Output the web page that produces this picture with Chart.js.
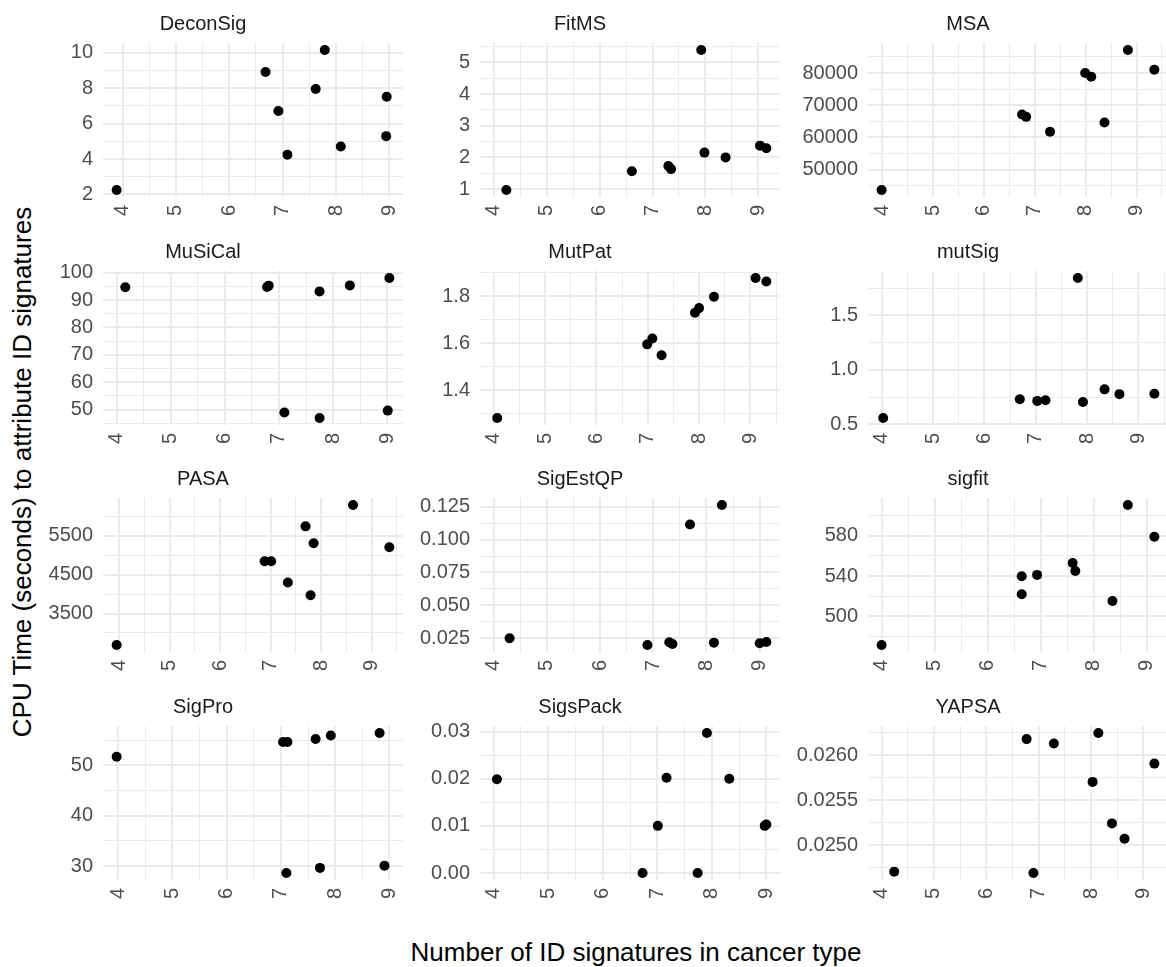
<!DOCTYPE html>
<html>
<head>
<meta charset="utf-8">
<script src="https://cdn.jsdelivr.net/npm/chart.js@4.4.1/dist/chart.umd.min.js"></script>
<style>
  html, body { margin: 0; padding: 0; background: #ffffff; overflow: hidden; }
  #board { position: relative; width: 1166px; height: 967px; overflow: hidden; background: #ffffff; }
  #board canvas { position: absolute; }
  .axis-title {
    position: absolute;
    font-family: "Liberation Sans", Arial, sans-serif;
    font-size: 26px;
    color: #000000;
    white-space: nowrap;
  }
</style>
</head>
<body>
<div id="board">
  <div class="axis-title" id="ytitle">CPU Time (seconds) to attribute ID signatures</div>
  <div class="axis-title" id="xtitle">Number of ID signatures in cancer type</div>
</div>
<script>
// Tools, in facet order (left to right, top to bottom)
const tools = ["DeconSig", "FitMS", "MSA", "MuSiCal", "MutPat", "mutSig",
               "PASA", "SigEstQP", "sigfit", "SigPro", "SigsPack", "YAPSA"];

// Number of ID signatures per cancer type (jittered) and CPU seconds, per tool
const deconSigX = [3.89, 6.68, 6.92, 7.09, 7.62, 7.79, 8.09, 8.94, 8.95];
const deconSigY = [2.25, 8.91, 6.71, 4.24, 7.95, 10.15, 4.70, 5.29, 7.51];

const fitMSX = [4.24, 6.61, 7.30, 7.35, 7.92, 7.98, 8.38, 9.03, 9.15];
const fitMSY = [0.97, 1.56, 1.73, 1.63, 5.39, 2.15, 2.00, 2.37, 2.29];

const msaX = [3.99, 6.75, 6.83, 7.30, 7.99, 8.11, 8.37, 8.83, 9.35];
const msaY = [43700, 67150, 66400, 61800, 80000, 78850, 64650, 87150, 81050];

const muSiCalX = [4.16, 6.78, 6.81, 7.10, 7.75, 7.75, 8.31, 9.01, 9.04];
const muSiCalY = [94.7, 94.8, 95.3, 48.9, 93.2, 46.9, 95.4, 49.6, 98.1];

const mutPatX = [4.07, 6.99, 7.09, 7.27, 7.92, 8.00, 8.29, 9.10, 9.31];
const mutPatY = [1.282, 1.595, 1.620, 1.549, 1.729, 1.749, 1.797, 1.877, 1.862];

const mutSigX = [4.03, 6.69, 7.03, 7.19, 7.82, 7.92, 8.34, 8.63, 9.31];
const mutSigY = [0.559, 0.731, 0.716, 0.722, 1.844, 0.706, 0.822, 0.778, 0.781];

const pasaX = [3.95, 6.88, 7.01, 7.34, 7.69, 7.79, 7.85, 8.63, 9.35];
const pasaY = [2690, 4845, 4845, 4300, 5745, 3970, 5310, 6295, 5205];

const sigEstQPX = [4.30, 6.89, 7.30, 7.36, 7.69, 8.14, 8.29, 9.00, 9.125];
const sigEstQPY = [0.0250, 0.0198, 0.0219, 0.0206, 0.1115, 0.0216, 0.1263, 0.0211, 0.0221];

const sigfitX = [4.00, 6.64, 6.64, 6.93, 7.60, 7.65, 8.35, 8.64, 9.14];
const sigfitY = [471.3, 521.9, 539.8, 541.1, 553.0, 544.9, 515.2, 610.7, 579.0];

const sigProX = [3.97, 7.04, 7.10, 7.12, 7.64, 7.72, 7.92, 8.82, 8.91];
const sigProY = [51.7, 54.6, 28.65, 54.6, 55.2, 29.66, 55.9, 56.4, 30.07];

const sigsPackX = [4.06, 6.73, 7.01, 7.17, 7.74, 7.91, 8.32, 8.97, 9.00];
const sigsPackY = [0.0199, 0.0, 0.0100, 0.0202, 0.0, 0.0297, 0.0200, 0.0100, 0.0103];

const yapsaX = [4.24, 6.77, 6.90, 7.29, 8.03, 8.14, 8.40, 8.64, 9.21];
const yapsaY = [0.024709, 0.026181, 0.024694, 0.026132, 0.025706, 0.026249, 0.025245, 0.025075, 0.025909];

// Tick labels
const xTickLabels = ["4", "5", "6", "7", "8", "9"];
const deconSigTicks = ["2", "4", "6", "8", "10"];
const fitMSTicks = ["1", "2", "3", "4", "5"];
const msaTicks = ["50000", "60000", "70000", "80000"];
const muSiCalTicks = ["50", "60", "70", "80", "90", "100"];
const mutPatTicks = ["1.4", "1.6", "1.8"];
const mutSigTicks = ["0.5", "1.0", "1.5"];
const pasaTicks = ["3500", "4500", "5500"];
const sigEstQPTicks = ["0.025", "0.050", "0.075", "0.100", "0.125"];
const sigfitTicks = ["500", "540", "580"];
const sigProTicks = ["30", "40", "50"];
const sigsPackTicks = ["0.00", "0.01", "0.02", "0.03"];
const yapsaTicks = ["0.0250", "0.0255", "0.0260"];

const xs = [deconSigX, fitMSX, msaX, muSiCalX, mutPatX, mutSigX, pasaX, sigEstQPX, sigfitX, sigProX, sigsPackX, yapsaX];
const ys = [deconSigY, fitMSY, msaY, muSiCalY, mutPatY, mutSigY, pasaY, sigEstQPY, sigfitY, sigProY, sigsPackY, yapsaY];
const yTicks = [deconSigTicks, fitMSTicks, msaTicks, muSiCalTicks, mutPatTicks, mutSigTicks,
                pasaTicks, sigEstQPTicks, sigfitTicks, sigProTicks, sigsPackTicks, yapsaTicks];

// Layout of the facet grid (pixels)
const PANEL_W = 300, PANEL_H = 154;
const Y_AXIS_W = 100, X_AXIS_H = 32, STRIP_H = 43;
const colLeft = [103, 480, 868];
const rowTop = [43, 271, 498, 726];

const FONT = '"Liberation Sans", Arial, sans-serif';
const GRID = '#EBEBEB';

// Range of values expanded by 5% on each side
function expanded(lo, hi) {
  const pad = (hi - lo) * 0.05;
  return [lo - pad, hi + pad];
}

// Major ticks from label strings plus minor ticks halfway between them
function tickSet(labels, lo, hi) {
  const major = labels.map(t => ({ value: parseFloat(t), txt: t, isMain: true }));
  const step = major[1].value - major[0].value;
  const minor = [];
  for (let i = -1; i < major.length; i++) {
    const base = i < 0 ? major[0].value - step : major[i].value;
    minor.push({ value: base + step / 2, txt: '', isMain: false });
  }
  const eps = (hi - lo) * 1e-6;
  return major.concat(minor)
    .filter(t => t.value >= lo - eps && t.value <= hi + eps)
    .sort((a, b) => a.value - b.value);
}

function axisCommon(ticks, padding) {
  return {
    type: 'linear',
    afterBuildTicks: scale => { scale.ticks = ticks.map(t => Object.assign({}, t)); },
    grid: {
      drawTicks: false,
      color: GRID,
      lineWidth: ctx => (ctx.tick && ctx.tick.isMain) ? 2 : 1
    },
    border: { display: false },
    ticks: {
      autoSkip: false,
      padding: padding,
      color: '#4D4D4D',
      font: { family: FONT, size: 20 },
      callback: (value, index, list) => list[index].txt
    }
  };
}

const board = document.getElementById('board');

tools.forEach((name, k) => {
  const col = k % 3, row = Math.floor(k / 3);
  const px = xs[k], py = ys[k];

  const xNum = xTickLabels.map(Number);
  const [xMin, xMax] = expanded(Math.min(xNum[0], ...px), Math.max(xNum[xNum.length - 1], ...px));
  const [yMin, yMax] = expanded(Math.min(...py), Math.max(...py));

  const canvas = document.createElement('canvas');
  const w = Y_AXIS_W + PANEL_W + Y_AXIS_W;
  const h = STRIP_H + PANEL_H + X_AXIS_H;
  canvas.width = w; canvas.height = h;
  canvas.style.width = w + 'px'; canvas.style.height = h + 'px';
  canvas.style.left = (colLeft[col] - Y_AXIS_W) + 'px';
  canvas.style.top = (rowTop[row] - STRIP_H) + 'px';
  board.appendChild(canvas);

  const xAxis = axisCommon(tickSet(xTickLabels, xMin, xMax), 8);
  Object.assign(xAxis, { min: xMin, max: xMax, position: 'bottom',
    afterFit: s => { s.height = X_AXIS_H; } });
  xAxis.ticks.minRotation = 90;
  xAxis.ticks.maxRotation = 90;

  const yAxis = axisCommon(tickSet(yTicks[k], yMin, yMax), 10);
  Object.assign(yAxis, { min: yMin, max: yMax, position: 'left',
    afterFit: s => { s.width = Y_AXIS_W; } });

  new Chart(canvas, {
    type: 'scatter',
    data: {
      datasets: [{
        data: px.map((x, i) => ({ x: x, y: py[i] })),
        backgroundColor: '#000000',
        borderWidth: 0,
        pointRadius: 5,
        pointHoverRadius: 5
      }]
    },
    options: {
      responsive: false,
      animation: false,
      devicePixelRatio: 1,
      events: [],
      layout: { padding: { left: 0, right: Y_AXIS_W, top: 0, bottom: 0 } },
      plugins: {
        legend: { display: false },
        tooltip: { enabled: false },
        title: {
          display: true,
          text: name,
          color: '#1A1A1A',
          font: { family: FONT, size: 20, weight: 'normal', lineHeight: 1.2 },
          padding: { top: 12, bottom: 7 }
        }
      },
      scales: { x: xAxis, y: yAxis }
    }
  });
});

// Shared axis titles
const yt = document.getElementById('ytitle');
yt.style.left = '22px';
yt.style.top = '472px';
yt.style.transform = 'translate(-50%, -50%) rotate(-90deg)';
const xt = document.getElementById('xtitle');
xt.style.left = '636px';
xt.style.top = '952px';
xt.style.transform = 'translate(-50%, -50%)';
</script>
</body>
</html>
